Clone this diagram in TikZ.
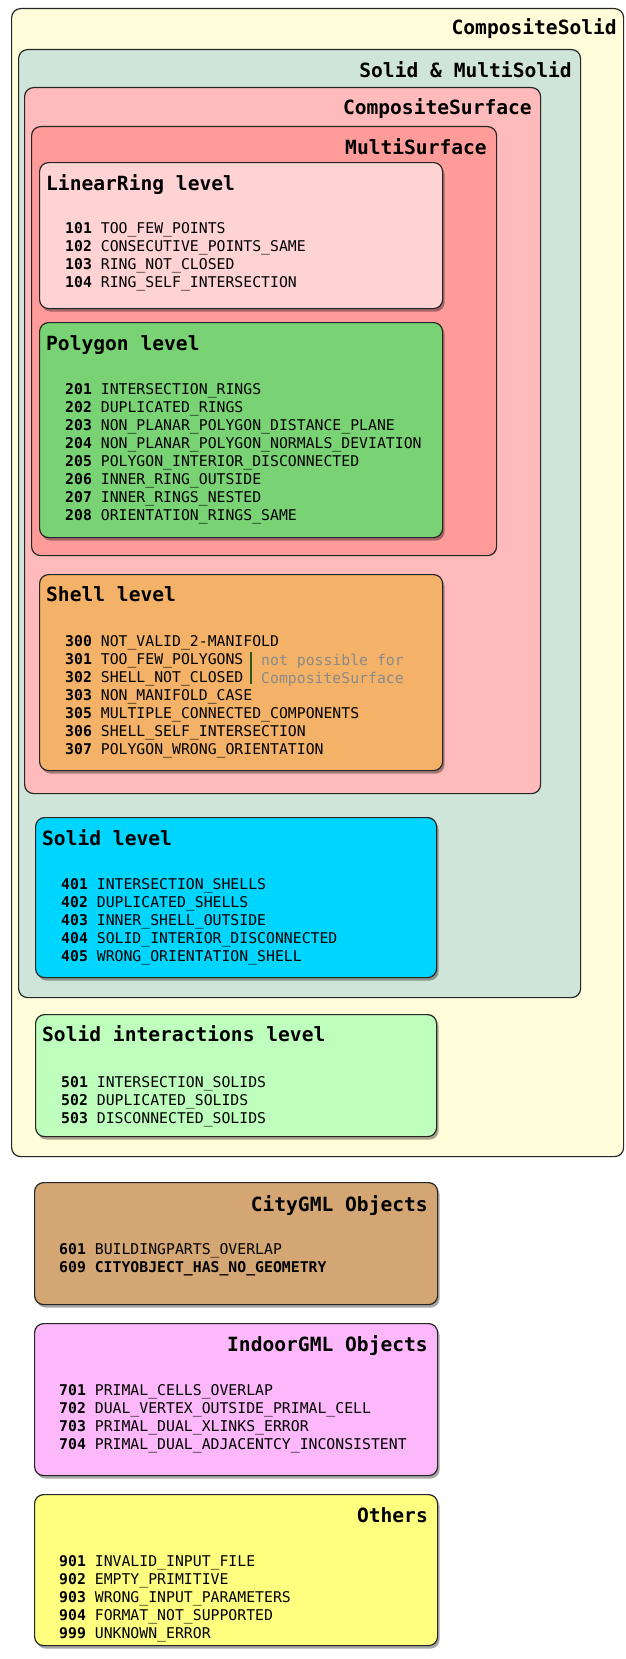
\documentclass[tikz,border=0pt]{standalone}
\usepackage{fontspec}
\setmainfont{DejaVu Sans Mono}
\usetikzlibrary{shadows}

\definecolor{csolidc}{HTML}{FFFDDA}
\definecolor{msolidc}{HTML}{D0E5DA}
\definecolor{csurfc}{HTML}{FFBBBB}
\definecolor{msurfc}{HTML}{FF9C9A}
\definecolor{ringc}{HTML}{FFD3D3}
\definecolor{polyc}{HTML}{79D374}
\definecolor{shellc}{HTML}{F4B268}
\definecolor{solidc}{HTML}{00D5FF}
\definecolor{interc}{HTML}{BEFFBE}
\definecolor{cityc}{HTML}{D4A674}
\definecolor{indoorc}{HTML}{FDB8FB}
\definecolor{otherc}{HTML}{FFFF80}
\definecolor{notec}{HTML}{8A8A8A}
\definecolor{barc}{HTML}{2A5A1A}

\begin{document}
\begin{tikzpicture}[x=1pt, y=-1pt,
		box/.style={draw=black!85, line width=1.2pt, rounded corners=9pt, anchor=north west, inner sep=0pt},
		lvl/.style={box, drop shadow={shadow xshift=2pt, shadow yshift=-3pt, opacity=0.35, fill=black}},
		ttl/.style={font=\bfseries\fontsize{19.6}{22}\selectfont, inner sep=0pt},
		errs/.style={font=\fontsize{14.8}{18}\selectfont, align=left, anchor=north west, inner sep=0pt},
		note/.style={errs, text=notec},
		barline/.style={draw=barc, line width=1.2pt},
	]
	\useasboundingbox (0,0) rectangle (625,1659);

	% nested geometry containers
	\node[box, fill=csolidc, minimum width=612pt, minimum height=1148pt] (csolid) at (11,8) {};
	\node[ttl, anchor=base east] (csolidt) at (617,35) {CompositeSolid};
	\node[box, fill=msolidc, minimum width=562pt, minimum height=948pt] (msolid) at (18,49) {};
	\node[ttl, anchor=base east] (msolidt) at (572,78) {Solid \& MultiSolid};
	\node[box, fill=csurfc, minimum width=516pt, minimum height=706pt] (csurf) at (24,87) {};
	\node[ttl, anchor=base east] (csurft) at (532,115) {CompositeSurface};
	\node[box, fill=msurfc, minimum width=465pt, minimum height=429pt] (msurf) at (31,126) {};
	\node[ttl, anchor=base east] (msurft) at (487,154) {MultiSurface};

	% levels
	\node[lvl, fill=ringc, minimum width=403pt, minimum height=146pt] (ring) at (39,162) {};
	\node[ttl, anchor=base west] (ringt) at (46,190) {LinearRing level};
	\node[errs] (ringe) at (65,222.6) {\textbf{101} TOO\_FEW\_POINTS\\
		\textbf{102} CONSECUTIVE\_POINTS\_SAME\\
		\textbf{103} RING\_NOT\_CLOSED\\
		\textbf{104} RING\_SELF\_INTERSECTION};

	\node[lvl, fill=polyc, minimum width=403pt, minimum height=215pt] (poly) at (39,322) {};
	\node[ttl, anchor=base west] (polyt) at (46,350) {Polygon level};
	\node[errs] (polye) at (65,383.6) {\textbf{201} INTERSECTION\_RINGS\\
		\textbf{202} DUPLICATED\_RINGS\\
		\textbf{203} NON\_PLANAR\_POLYGON\_DISTANCE\_PLANE\\
		\textbf{204} NON\_PLANAR\_POLYGON\_NORMALS\_DEVIATION\\
		\textbf{205} POLYGON\_INTERIOR\_DISCONNECTED\\
		\textbf{206} INNER\_RING\_OUTSIDE\\
		\textbf{207} INNER\_RINGS\_NESTED\\
		\textbf{208} ORIENTATION\_RINGS\_SAME};

	\node[lvl, fill=shellc, minimum width=403pt, minimum height=196pt] (shell) at (39,574) {};
	\node[ttl, anchor=base west] (shellt) at (46,601) {Shell level};
	\node[errs] (shelle) at (65,635.6) {\textbf{300} NOT\_VALID\_2-MANIFOLD\\
		\textbf{301} TOO\_FEW\_POLYGONS\\
		\textbf{302} SHELL\_NOT\_CLOSED\\
		\textbf{303} NON\_MANIFOLD\_CASE\\
		\textbf{305} MULTIPLE\_CONNECTED\_COMPONENTS\\
		\textbf{306} SHELL\_SELF\_INTERSECTION\\
		\textbf{307} POLYGON\_WRONG\_ORIENTATION};
	\coordinate (bartop) at (251,652);
	\coordinate (barbot) at (251,684);
	\draw[barline] (bartop) -- (barbot);
	\node[note] (shelln) at (261,653.6) {not possible for\\CompositeSurface};

	\node[lvl, fill=solidc, minimum width=401pt, minimum height=160pt] (solid) at (35,817) {};
	\node[ttl, anchor=base west] (solidt) at (42,845) {Solid level};
	\node[errs] (solide) at (61,878.6) {\textbf{401} INTERSECTION\_SHELLS\\
		\textbf{402} DUPLICATED\_SHELLS\\
		\textbf{403} INNER\_SHELL\_OUTSIDE\\
		\textbf{404} SOLID\_INTERIOR\_DISCONNECTED\\
		\textbf{405} WRONG\_ORIENTATION\_SHELL};

	\node[lvl, fill=interc, minimum width=401pt, minimum height=122pt] (inter) at (35,1014) {};
	\node[ttl, anchor=base west] (intert) at (42,1041) {Solid interactions level};
	\node[errs] (intere) at (61,1076.6) {\textbf{501} INTERSECTION\_SOLIDS\\
		\textbf{502} DUPLICATED\_SOLIDS\\
		\textbf{503} DISCONNECTED\_SOLIDS};

	% outside the geometry
	\node[lvl, fill=cityc, minimum width=403pt, minimum height=122pt] (city) at (34,1182) {};
	\node[ttl, anchor=base east] (cityt) at (428,1211) {CityGML Objects};
	\node[errs] (citye) at (59,1243.6) {\textbf{601} BUILDINGPARTS\_OVERLAP\\
		\textbf{609 CITYOBJECT\_HAS\_NO\_GEOMETRY}};

	\node[lvl, fill=indoorc, minimum width=403pt, minimum height=152pt] (indoor) at (34,1323) {};
	\node[ttl, anchor=base east] (indoort) at (428,1351) {IndoorGML Objects};
	\node[errs] (indoore) at (59,1384.6) {\textbf{701} PRIMAL\_CELLS\_OVERLAP\\
		\textbf{702} DUAL\_VERTEX\_OUTSIDE\_PRIMAL\_CELL\\
		\textbf{703} PRIMAL\_DUAL\_XLINKS\_ERROR\\
		\textbf{704} PRIMAL\_DUAL\_ADJACENTCY\_INCONSISTENT};

	\node[lvl, fill=otherc, minimum width=403pt, minimum height=151pt] (other) at (34,1494) {};
	\node[ttl, anchor=base east] (othert) at (428,1522) {Others};
	\node[errs] (othere) at (59,1555.6) {\textbf{901} INVALID\_INPUT\_FILE\\
		\textbf{902} EMPTY\_PRIMITIVE\\
		\textbf{903} WRONG\_INPUT\_PARAMETERS\\
		\textbf{904} FORMAT\_NOT\_SUPPORTED\\
		\textbf{999} UNKNOWN\_ERROR};
\end{tikzpicture}
\end{document}
